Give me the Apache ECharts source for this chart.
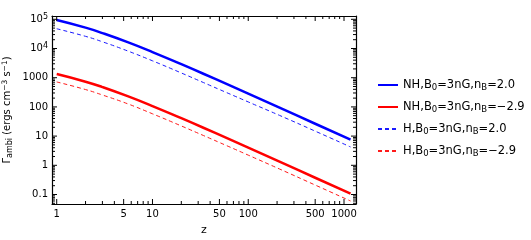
<!DOCTYPE html>
<html>
<head>
<meta charset="utf-8">
<script src="https://cdn.jsdelivr.net/npm/echarts@6/dist/echarts.min.js"></script>
<style>html,body{margin:0;padding:0;background:#fff}#c{width:531px;height:240px}</style>
</head>
<body>
<div id="c"></div>
<script>
// ---- data ----
const zValues = [1, 2, 3, 5.5, 10, 20, 34, 60, 100, 212, 500, 1170];
const nhB2   = [94400, 51800, 33800, 16500, 7570, 2900, 1365, 600, 284, 94.2, 26.5, 7.55];
const nhBm29 = [1334, 731, 478, 233, 107, 41.0, 19.3, 8.47, 4.02, 1.33, 0.375, 0.107];
const hB2    = [47500, 26100, 17000, 8260, 3790, 1455, 684, 305, 148, 51.3, 14.8, 4.25];
const hBm29  = [716, 393, 256, 128, 58.1, 22.3, 10.5, 4.66, 2.23, 0.748, 0.211, 0.060];

const seriesNames = ['NH_2.0', 'NH_-2.9', 'H_2.0', 'H_-2.9'];
const legendTexts = [
  'NH,B{sub|0}=3nG,n{sub|B}=2.0',
  'NH,B{sub|0}=3nG,n{sub|B}=\u22122.9',
  'H,B{sub|0}=3nG,n{sub|B}=2.0',
  'H,B{sub|0}=3nG,n{sub|B}=\u22122.9'
];
const xMajorTicks = [1, 5, 10, 50, 100, 500, 1000];
const xMinorTicks = [2, 3, 4, 6, 7, 8, 9, 20, 30, 40, 60, 70, 80, 90, 200, 300, 400, 600, 700, 800, 900];
const yMajorTicks = [0.1, 1, 10, 100, 1000, 10000, 100000];
const yMinorMultipliers = [2, 3, 4, 5, 6, 7, 8, 9];
const yMinorDecades = [0.01, 0.1, 1, 10, 100, 1000, 10000, 100000];

const X_MIN = 0.893, X_MAX = 1334, Y_MIN = 0.0473, Y_MAX = 129800;
const FONT = 'DejaVu Sans';
const MAJOR_LEN = 5, MINOR_LEN = 3;

function pairs(ys) { return zValues.map((z, i) => [z, ys[i]]); }

const yMinorTicks = [];
yMinorDecades.forEach(d => yMinorMultipliers.forEach(k => {
  const v = +(d * k).toPrecision(3);
  if (v > Y_MIN && v < Y_MAX) yMinorTicks.push(v);
}));

const xTickData = xMajorTicks.map(v => [v, MAJOR_LEN]).concat(xMinorTicks.map(v => [v, MINOR_LEN]));
const yTickData = yMajorTicks.map(v => [v, MAJOR_LEN]).concat(yMinorTicks.map(v => [v, MINOR_LEN]));

function xAx(pos, labels) {
  return {
    type: 'log', logBase: 10, min: X_MIN, max: X_MAX, position: pos,
    axisLine: { show: true, onZero: false, lineStyle: { color: '#000', width: 1.2 } },
    axisTick: { show: false },
    axisLabel: { show: labels, customValues: labels ? xMajorTicks : undefined, color: '#000', fontFamily: FONT, fontSize: 10, margin: 5,
      formatter: v => String(Math.round(v)) },
    splitLine: { show: false }, minorTick: { show: false }
  };
}
function yFmt(v) {
  if (v >= 10000) return '10{sup|' + Math.round(Math.log10(v)) + '}';
  if (v < 1) return String(+v.toPrecision(2));
  return String(Math.round(v));
}
function yAx(pos, labels, name) {
  const a = {
    type: 'log', logBase: 10, min: Y_MIN, max: Y_MAX, position: pos,
    axisLine: { show: true, onZero: false, lineStyle: { color: '#000', width: 1.2 } },
    axisTick: { show: false },
    axisLabel: { show: labels, customValues: labels ? yMajorTicks : undefined, color: '#000', fontFamily: FONT, fontSize: 10, margin: 4,
      formatter: yFmt, rich: { sup: { fontSize: 8, verticalAlign: 'top', padding: [0, 0, 5, 0], fontFamily: FONT, color: '#000' } } },
    splitLine: { show: false }, minorTick: { show: false }
  };
  if (name) {
    a.name = name; a.nameLocation = 'middle'; a.nameGap = 38; a.nameRotate = 90;
    a.nameMoveOverlap = false;
    a.nameTextStyle = { color: '#000', fontFamily: FONT, fontSize: 10,
      rich: { sub: { fontSize: 8, verticalAlign: 'bottom', padding: [4, 0, 0, 0], fontFamily: FONT },
              sup: { fontSize: 7.5, verticalAlign: 'top', padding: [0, 0, 5, 0], fontFamily: FONT } } };
  }
  return a;
}

const xA0 = xAx('bottom', true);
xA0.name = 'z'; xA0.nameLocation = 'middle'; xA0.nameGap = 21; xA0.nameMoveOverlap = false;
xA0.nameTextStyle = { color: '#000', fontFamily: FONT, fontSize: 11 };

function tickStyle() { return { stroke: '#000', lineWidth: 1 }; }

const option = {
  animation: false,
  backgroundColor: '#fff',
  grid: { left: 52, right: 175, top: 16, bottom: 36, containLabel: false, outerBoundsMode: 'none' },
  xAxis: [xA0, xAx('top', false)],
  yAxis: [yAx('left', true, '\u0393{sub|ambi} (ergs cm{sup|\u22123} s{sup|\u22121})'), yAx('right', false)],
  legend: {
    orient: 'vertical', left: 372, top: 74, itemWidth: 20, itemHeight: 10, itemGap: 9,
    data: seriesNames,
    itemStyle: { opacity: 0, borderWidth: 0 },
    formatter: n => legendTexts[seriesNames.indexOf(n)],
    textStyle: { color: '#000', fontFamily: FONT, fontSize: 11.5,
      rich: { sub: { fontSize: 8.5, verticalAlign: 'bottom', padding: [5, 0, 0, 0], fontFamily: FONT, color: '#000' } } }
  },
  series: [
    { name: seriesNames[0], type: 'line', data: pairs(nhB2), symbol: 'none', smooth: 0.5, lineStyle: { color: '#0000ff', width: 2.5 }, itemStyle: { color: '#0000ff' } },
    { name: seriesNames[1], type: 'line', data: pairs(nhBm29), symbol: 'none', smooth: 0.5, lineStyle: { color: '#ff0000', width: 2.5 }, itemStyle: { color: '#ff0000' } },
    { name: seriesNames[2], type: 'line', data: pairs(hB2), symbol: 'none', smooth: 0.5, lineStyle: { color: '#1a1aff', width: 1, type: [4, 3] }, itemStyle: { color: '#1a1aff' } },
    { name: seriesNames[3], type: 'line', data: pairs(hBm29), symbol: 'none', smooth: 0.5, lineStyle: { color: '#ff1a1a', width: 1, type: [4, 3] }, itemStyle: { color: '#ff1a1a' } },
    { name: 'xticks', type: 'custom', data: xTickData, silent: true, clip: false, z: 5,
      renderItem: (params, api) => {
        const v = api.value(0), len = api.value(1);
        const b = api.coord([v, Y_MIN]), t = api.coord([v, Y_MAX]);
        return { type: 'group', children: [
          { type: 'line', shape: { x1: b[0], y1: b[1], x2: b[0], y2: b[1] - len }, style: tickStyle() },
          { type: 'line', shape: { x1: t[0], y1: t[1], x2: t[0], y2: t[1] + len }, style: tickStyle() }
        ] };
      } },
    { name: 'yticks', type: 'custom', data: yTickData.map(d => [X_MIN * 2, d[0], d[1]]), silent: true, clip: false, z: 5,
      encode: { x: 0, y: 1 },
      renderItem: (params, api) => {
        const v = api.value(1), len = api.value(2);
        const l = api.coord([X_MIN, v]), r = api.coord([X_MAX, v]);
        return { type: 'group', children: [
          { type: 'line', shape: { x1: l[0], y1: l[1], x2: l[0] + len, y2: l[1] }, style: tickStyle() },
          { type: 'line', shape: { x1: r[0], y1: r[1], x2: r[0] - len, y2: r[1] }, style: tickStyle() }
        ] };
      } }
  ]
};
const chart = echarts.init(document.getElementById('c'), null, { renderer: 'canvas' });
chart.setOption(option);
</script>
</body>
</html>
